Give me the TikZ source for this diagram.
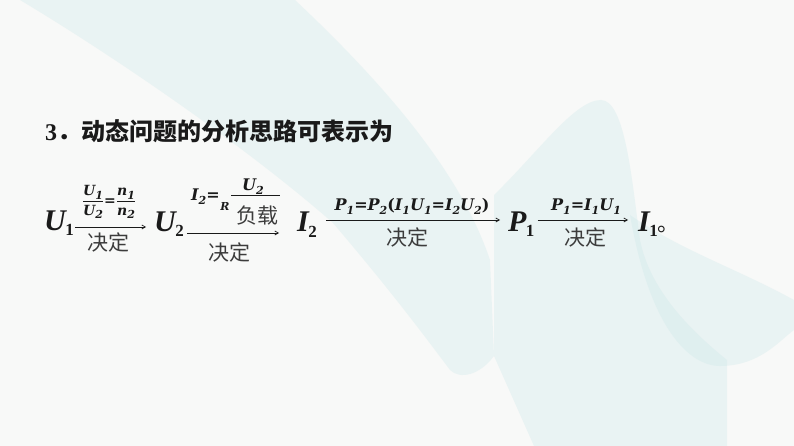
\documentclass[tikz,border=0pt]{standalone}
\usepackage{fontspec}
\setmainfont{Liberation Serif}
\newfontfamily\cjk{Noto Sans CJK SC}
\newfontfamily\lbf{DejaVu Serif}
\usetikzlibrary{arrows.meta}
\definecolor{bgc}{HTML}{F8F9F8}
\definecolor{tealA}{HTML}{C9E6E8}
\definecolor{ink}{HTML}{1A1A1A}
\newcommand\BigV[2]{{\bfseries\itshape #1}\kern-0.02em\raisebox{-0.2em}{\fontsize{17}{17}\selectfont\bfseries #2}}
\newcommand\SmV[2]{{\lbf\bfseries\itshape #1}\raisebox{-0.25em}{\lbf\fontsize{11}{11}\selectfont\bfseries\itshape #2}}
\newcommand\SmS[1]{{\lbf\bfseries #1}}
\tikzset{
  qty/.style={font=\fontsize{30}{30}\selectfont, anchor=base west, inner sep=0pt, text=ink},
  lbl/.style={font=\fontsize{16}{16}\selectfont, inner sep=0pt, anchor=base, text=ink},
  zh/.style={font=\cjk\fontsize{21}{21}\selectfont, inner sep=0pt, anchor=base, text=ink!85},
  arr/.style={-{Straight Barb[length=3.5pt,width=4pt]}, line width=0.7pt, draw=ink},
  bgshape/.style={fill=tealA, opacity=0.3, draw=none}
}
\begin{document}
\begin{tikzpicture}[x=1pt,y=-1pt]
\fill[bgc] (0,0) rectangle (794,446);
\useasboundingbox (0,0) rectangle (794,446);
% background shapes
\fill[bgshape] (20,0) -- (295,0) .. controls (380,80) and (460,170) .. (490,260)
  -- (494,356) .. controls (480,375) and (460,380) .. (450,370)
  .. controls (420,330) and (390,290) .. (333,223)
  .. controls (250,150) and (120,60) .. (20,0) -- cycle;
\fill[bgshape] (601,100) .. controls (575,100) and (540,150) .. (494,195)
  -- (494,356) -- (534,446) -- (727,446) -- (727,360)
  .. controls (690,330) and (650,290) .. (640,240)
  .. controls (632,180) and (625,100) .. (601,100) -- cycle;
\fill[bgshape] (630,215) .. controls (650,330) and (690,366) .. (720,366)
  .. controls (760,366) and (780,340) .. (794,330) -- (794,300)
  .. controls (740,270) and (680,250) .. (630,215) -- cycle;
% title
\node[font=\fontsize{24}{24}\selectfont\bfseries, anchor=base west, inner sep=0pt, text=ink] (title) at (45,141) {3{\cjk ．动态问题的分析思路可表示为}};
% quantities
\node[qty] (U1) at (44,230) {\BigV{U}{1}};
\node[qty] (U2) at (154,231) {\BigV{U}{2}};
\node[qty] (I2) at (297,232) {\BigV{I}{2}};
\node[qty] (P1) at (508,231) {\BigV{P}{1}};
\node[qty] (I1) at (638,231) {\BigV{I}{1}{\cjk\fontsize{22}{22}\selectfont 。}};
% arrows
\draw[arr] ([xshift=1pt]U1.east |- 0,227) -- ([xshift=-8pt]U2.west |- 0,227);
\draw[arr] ([xshift=3pt]U2.east |- 0,233) -- ([xshift=-18pt]I2.west |- 0,233);
\draw[arr] ([xshift=9pt]I2.east |- 0,220) -- ([xshift=-8pt]P1.west |- 0,220);
\draw[arr] ([xshift=3pt]P1.east |- 0,220) -- ([xshift=-10pt]I1.west |- 0,220);
% labels arrow 1
\node[font=\fontsize{14}{14}\selectfont, inner sep=0pt, text=ink] (f1) at (109,202)
  {$\displaystyle\frac{\mbox{\SmV{U}{1}}}{\mbox{\SmV{U}{2}}}\mbox{\SmS{=}}\frac{\mbox{\SmV{n}{1}}}{\mbox{\SmV{n}{2}}}$};
\node[zh] (d1) at (108,251) {决定};
% labels arrow 2
\node[lbl, anchor=base west] (i2eq) at (191,201) {\SmV{I}{2}\SmS{=}};
\draw[ink, line width=0.6pt] (231,195) -- (280,195);
\node[lbl] (u2n) at (253,191) {\SmV{U}{2}};
\node[lbl, font=\fontsize{11}{11}\selectfont] (rr) at (225,211) {\SmV{R}{}};
\node[zh] (fz) at (257,223) {负载};
\node[zh] (d2) at (229,260) {决定};
% labels arrow 3
\node[lbl] (l3) at (412,211) {\SmV{P}{1}\SmS{=}\SmV{P}{2}\SmS{(}\SmV{I}{1}\SmV{U}{1}\SmS{=}\SmV{I}{2}\SmV{U}{2}\SmS{)}};
\node[zh] (d3) at (407,245) {决定};
% labels arrow 4
\node[lbl] (l4) at (586,211) {\SmV{P}{1}\SmS{=}\SmV{I}{1}\SmV{U}{1}};
\node[zh] (d4) at (585,245) {决定};
\end{tikzpicture}
\end{document}
